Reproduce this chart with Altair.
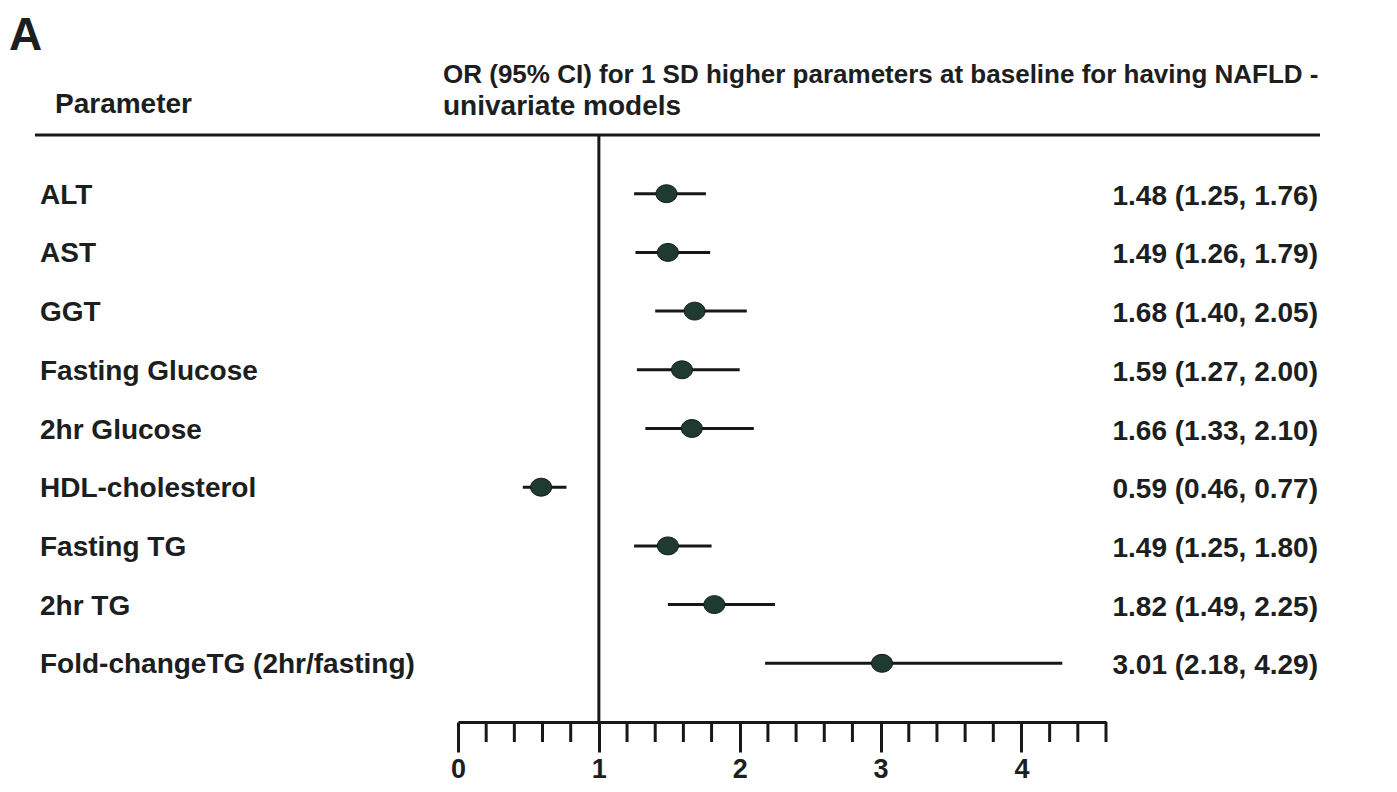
import altair as alt
import pandas as pd

params = ["ALT", "AST", "GGT", "Fasting Glucose", "2hr Glucose", "HDL-cholesterol",
          "Fasting TG", "2hr TG", "Fold-changeTG (2hr/fasting)"]
or_vals = [1.48, 1.49, 1.68, 1.59, 1.66, 0.59, 1.49, 1.82, 3.01]
ci_lo = [1.25, 1.26, 1.40, 1.27, 1.33, 0.46, 1.25, 1.49, 2.18]
ci_hi = [1.76, 1.79, 2.05, 2.00, 2.10, 0.77, 1.80, 2.25, 4.29]
value_labels = ["1.48 (1.25, 1.76)", "1.49 (1.26, 1.79)", "1.68 (1.40, 2.05)",
                "1.59 (1.27, 2.00)", "1.66 (1.33, 2.10)", "0.59 (0.46, 0.77)",
                "1.49 (1.25, 1.80)", "1.82 (1.49, 2.25)", "3.01 (2.18, 4.29)"]
major_ticks = [0, 1, 2, 3, 4]
minor_ticks = [0.2, 0.4, 0.6, 0.8, 1.2, 1.4, 1.6, 1.8, 2.2, 2.4, 2.6, 2.8,
               3.2, 3.4, 3.6, 3.8, 4.2, 4.4, 4.6]

df = pd.DataFrame({"param": params, "or": or_vals, "lo": ci_lo, "hi": ci_hi,
                   "label": value_labels})
ticks_df = pd.DataFrame({"t": minor_ticks})

W, H = 1285, 587
FONT = "Liberation Sans"
TXT = "#1b201e"
LINE = "#181818"
FS = 28

xscale = alt.Scale(domain=[0, 4.6], range=[423, 1071], nice=False, zero=False)
yscale = alt.Scale(domain=params, range=[0, H], padding=1)

xaxis = alt.Axis(values=major_ticks, format="d", title=None, grid=False, tickSize=30,
                 tickWidth=3, domainWidth=3, domainColor=LINE, tickColor=LINE,
                 labelFont=FONT, labelFontSize=27, labelFontWeight="bold",
                 labelColor=TXT, labelPadding=4, labelFlush=False)

base = alt.Chart(df)

err = base.mark_rule(strokeWidth=3, color=LINE).encode(
    x=alt.X("lo:Q", scale=xscale, axis=xaxis),
    x2="hi:Q",
    y=alt.Y("param:N", scale=yscale, axis=None, sort=params),
)

pts = base.mark_point(
    shape="M-1,0A1,0.85,0,1,1,1,0A1,0.85,0,1,1,-1,0Z",
    filled=True, fill="#1f3a31", stroke="#0f1a15", strokeWidth=1, opacity=1, size=441
).encode(
    x=alt.X("or:Q", scale=xscale),
    y=alt.Y("param:N", scale=yscale, sort=params),
)

left_txt = base.mark_text(align="left", baseline="middle", font=FONT, fontSize=FS,
                          fontWeight="bold", color=TXT, dy=2).encode(
    x=alt.value(5),
    y=alt.Y("param:N", scale=yscale, sort=params),
    text="param:N",
)

right_txt = base.mark_text(align="right", baseline="middle", font=FONT, fontSize=FS,
                           fontWeight="bold", color=TXT, dy=3).encode(
    x=alt.value(1283),
    y=alt.Y("param:N", scale=yscale, sort=params),
    text="label:N",
)

minor = alt.Chart(ticks_df).mark_rule(strokeWidth=3, color=LINE).encode(
    x=alt.X("t:Q", scale=xscale),
    y=alt.value(H),
    y2=alt.value(H + 20),
)

vline = alt.Chart(pd.DataFrame({"v": [1]})).mark_rule(strokeWidth=3, color=LINE).encode(
    x=alt.X("v:Q", scale=xscale),
    y=alt.value(0),
    y2=alt.value(H),
)

top_line = alt.Chart(pd.DataFrame({"v": [0]})).mark_rule(strokeWidth=3, color=LINE).encode(
    x=alt.value(0), x2=alt.value(W), y=alt.value(0),
)

one = pd.DataFrame({"v": [0]})
panel = alt.Chart(one).mark_text(align="left", baseline="middle", font=FONT, fontSize=46,
                                 fontWeight="bold", color=TXT).encode(
    x=alt.value(-26), y=alt.value(-99), text=alt.value("A"))
hdr_param = alt.Chart(one).mark_text(align="left", baseline="middle", font=FONT, fontSize=FS,
                                     fontWeight="bold", color=TXT).encode(
    x=alt.value(20), y=alt.value(-30), text=alt.value("Parameter"))
hdr_or1 = alt.Chart(one).mark_text(align="left", baseline="middle", font=FONT, fontSize=26,
                                   fontWeight="bold", color=TXT).encode(
    x=alt.value(408), y=alt.value(-60),
    text=alt.value("OR (95% CI) for 1 SD higher parameters at baseline for having NAFLD -"))
hdr_or2 = alt.Chart(one).mark_text(align="left", baseline="middle", font=FONT, fontSize=28,
                                   fontWeight="bold", color=TXT).encode(
    x=alt.value(408), y=alt.value(-28), text=alt.value("univariate models"))

chart = alt.layer(err, minor, vline, top_line, pts, left_txt, right_txt,
                  panel, hdr_param, hdr_or1, hdr_or2).properties(
    width=W, height=H,
    autosize=alt.AutoSizeParams(type="none"),
    padding={"left": 27, "top": 127, "right": 60, "bottom": 62},
    background="white",
).configure_view(strokeWidth=0, stroke=None)

chart.save("out.html", embed_options={"renderer": "svg", "actions": False})
